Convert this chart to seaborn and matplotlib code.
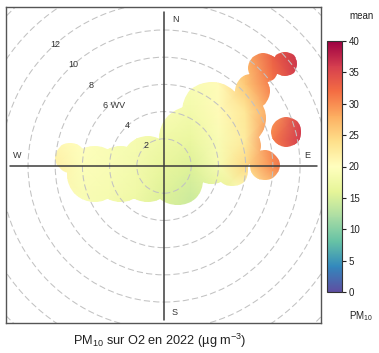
import numpy as np
import matplotlib
matplotlib.use("Agg")
import matplotlib.pyplot as plt
from matplotlib.path import Path
from matplotlib.patches import Circle
from matplotlib.cm import ScalarMappable
from matplotlib.colors import Normalize
import seaborn as sns

# Smoothed PM10 surface sampled on wind-component nodes (u east, v north)
u_nodes = [-10, -8, -6, -4, -2, 0, 2, 4, 6, 8, 10, 12]
v_nodes = [-4, -2, 0, 2, 4, 6, 8, 10]
pm10_v_m4 = [21, 20, 19, 18, 16.5, 15, 14, 15, 18, 22, 27, 32]
pm10_v_m2 = [21, 21, 19, 18.5, 17.5, 15.5, 14.5, 16, 20, 25, 30, 34]
pm10_v_0 = [22, 22, 19.5, 19, 18, 16.5, 15.5, 18.5, 24.5, 30, 34, 37]
pm10_v_2 = [21, 21, 20, 19, 18.5, 17.5, 17, 19, 22.5, 31, 36, 39]
pm10_v_4 = [20, 20, 20, 19.5, 19, 19, 18, 20.5, 23, 29, 35, 38]
pm10_v_6 = [20, 20, 20, 20, 19.5, 19.5, 19, 20.5, 26, 31.5, 36, 39]
pm10_v_8 = [21, 21, 20, 20, 20, 20, 21, 23, 27.5, 33, 37, 40]
pm10_v_10 = [21, 21, 21, 21, 21, 21, 22, 24, 28, 32, 36, 39]

# Wind bins that hold data: centre (u, v) and how far the surface reaches around them
bin_u = [-6.9, -5.1, -3.2, -1.2, -1.2, 1.0, 2.0, 3.5, 5.5, 5.5, 3.5, 5.0, 6.5, 7.3, 8.9, 9.0, 7.4]
bin_v = [0.6, -0.6, -0.6, -0.6, 0.3, -1.0, 2.0, 4.0, 3.5, 1.5, 0.5, -0.3, 5.5, 7.2, 7.5, 2.5, 0.05]
bin_r = [1.1, 2.05, 2.05, 2.05, 1.9, 1.9, 2.4, 2.2, 2.0, 1.6, 1.8, 1.2, 1.3, 1.1, 0.9, 1.1, 1.1]

ring_ws = [2, 4, 6, 8, 10, 12, 14, 16]
ring_label_ws = [2, 4, 6, 8, 10, 12]
ring_labels = ["2", "4", "6 WV", "8", "10", "12"]
compass = ["N", "E", "S", "W"]
cbar_ticks = [0, 5, 10, 15, 20, 25, 30, 35, 40]

sns.set_theme(style="white")
plt.rcParams["font.family"] = ["Liberation Sans", "DejaVu Sans"]
plt.rcParams["mathtext.fontset"] = "custom"
plt.rcParams["mathtext.rm"] = "Liberation Sans"
plt.rcParams["mathtext.it"] = "Liberation Sans:italic"
plt.rcParams["mathtext.default"] = "regular"

cmap = sns.color_palette("Spectral_r", as_cmap=True)
norm = Normalize(vmin=0, vmax=40)

fig = plt.figure(figsize=(3.79, 3.53), dpi=100)
ax = fig.add_axes([6 / 379, 30 / 353, 315 / 379, 316 / 353])

Z = np.array([pm10_v_m4, pm10_v_m2, pm10_v_0, pm10_v_2,
              pm10_v_4, pm10_v_6, pm10_v_8, pm10_v_10])
U, V = np.meshgrid(u_nodes, v_nodes)
mesh = ax.pcolormesh(U, V, Z, cmap=cmap, norm=norm, shading="gouraud",
                     zorder=1)
# the surface is only shown around bins that hold data
reach = Path.make_compound_path(*[Path.circle((x, y), r)
                                  for x, y, r in zip(bin_u, bin_v, bin_r)])
mesh.set_clip_path(reach, ax.transData)

# dashed wind-speed rings
for r in ring_ws:
    ax.add_patch(Circle((0, 0), r, fill=False, ec="#c2c2c2", lw=0.75,
                        ls=(0, (6, 3)), zorder=2))

# cross hair
ax.plot([0, 0], [-11.32, 11.32], color="#3c3c3c", lw=1.1, zorder=3)
ax.plot([-11.32, 11.25], [0, 0], color="#3c3c3c", lw=1.1, zorder=3)

ang = np.deg2rad(132)
for ws, lab in zip(ring_label_ws, ring_labels):
    dx = 0.35 if " " in lab else 0.0
    ax.text(ws * np.cos(ang) + dx, ws * np.sin(ang), lab, ha="center",
            va="center", fontsize=6.5, color="#333333", zorder=4)

comp_pos = [(0.81, 10.74), (10.5, 0.8), (0.74, -10.8), (-10.8, 0.8)]
for lab, (x, y) in zip(compass, comp_pos):
    ax.text(x, y, lab, ha="center", va="center", fontsize=6.5,
            color="#333333", zorder=4)

ax.set_xlim(-11.62, 11.54)
ax.set_ylim(-11.54, 11.69)
ax.set_aspect("auto")
ax.set_xticks([])
ax.set_yticks([])
for s in ax.spines.values():
    s.set_color("#555555")
    s.set_linewidth(1.0)

cax = fig.add_axes([327 / 379, 61 / 353, 15 / 379, 251 / 353])
cb = fig.colorbar(ScalarMappable(norm=norm, cmap=cmap), cax=cax, ticks=cbar_ticks)
cb.outline.set_linewidth(0.8)
cb.outline.set_edgecolor("#333333")
cax.tick_params(length=3, width=0.8, labelsize=7, pad=2, colors="#222222",
                right=True, direction="out")

fig.text(349 / 379, 1 - 16 / 353, "mean", fontsize=7, ha="left", va="center",
         color="#222222")
fig.text(349 / 379, 1 - 316 / 353, "PM$_{10}$", fontsize=7, ha="left",
         va="center", color="#222222")
fig.text(160 / 379, 1 - 341 / 353, "PM$_{10}$ sur O2 en 2022 (µg m$^{-3}$)",
         ha="center", va="center", fontsize=9.2, color="#222222")

fig.savefig("out.png", dpi=100)
